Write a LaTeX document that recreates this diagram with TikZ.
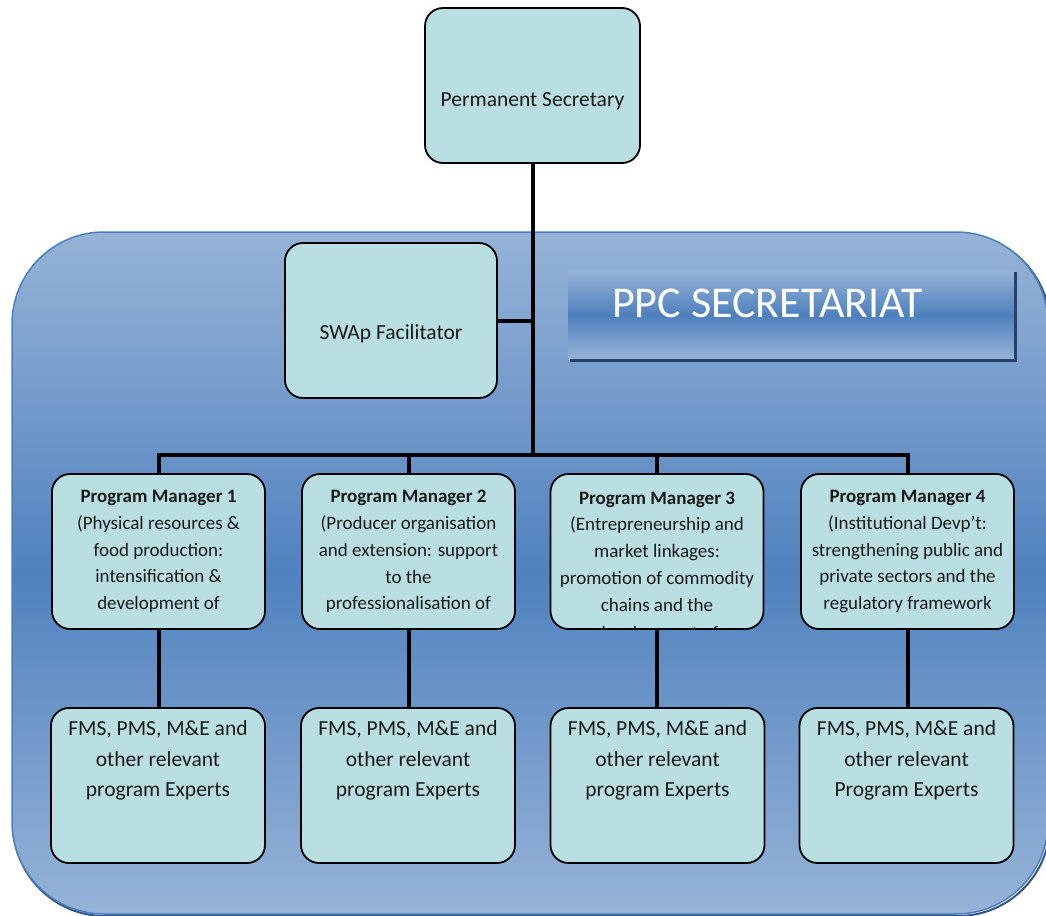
\documentclass[tikz,border=0pt]{standalone}
\usepackage{fontspec}
\setmainfont{Carlito}
\usetikzlibrary{calc}
\definecolor{boxfill}{RGB}{185,223,227}
\definecolor{bgl}{RGB}{150,179,215}
\definecolor{bgd}{RGB}{80,130,190}
\definecolor{bgborder}{RGB}{74,126,190}
\definecolor{bgshadow}{RGB}{50,85,135}
\definecolor{bnl}{RGB}{150,179,215}
\definecolor{bnd}{RGB}{78,128,189}
\definecolor{bshadow}{RGB}{38,64,104}
\definecolor{txt}{RGB}{25,25,25}
\begin{document}
\begin{tikzpicture}[x=1pt,y=-1pt,
  box/.style={draw=black, line width=1.8pt, fill=boxfill, rounded corners=18pt,
    minimum width=213pt, minimum height=155pt, inner sep=0pt},
  conn/.style={draw=black, line width=4pt},
  lbl/.style={text=txt, align=center, font=\fontsize{21.5}{24}\selectfont},
  pmtext/.style={text=txt, align=center, font=\fontsize{19}{26.8}\selectfont},
  extext/.style={text=txt, align=center, font=\fontsize{21.5}{30.5}\selectfont}]
\useasboundingbox (0,0) rectangle (1046,915);
% background region
\begin{scope}
\clip (0,0) rectangle (1046,915);
\draw[bgshadow, line width=2pt, rounded corners=92pt] (13,234) rectangle (1050,916);
\shade[top color=bgl, bottom color=bgl, middle color=bgd, draw=bgborder, line width=1.5pt,
  rounded corners=92pt] (12,232) rectangle (1048,914);
\end{scope}
% banner
\node[shade, top color=bnl, bottom color=bnl, middle color=bnd,
  minimum width=446pt, minimum height=88pt, inner sep=0pt] (banner) at (791,315) {};
\fill[bshadow] (banner.north east) ++(0,1) rectangle ([shift={(3,3)}]banner.south east);
\fill[bshadow] ([xshift=2pt]banner.south west) rectangle ([shift={(3,3)}]banner.south east);
\node[text=white, font=\fontsize{44}{44}\selectfont, inner sep=0pt] (ppc) at (767.5,303) {PPC SECRETARIAT};
% boxes
\node[box, minimum width=215pt] (ps) at (532.5,85.5) {};
\node[lbl] (pst) at (532.5,101) {Permanent Secretary};
\node[box, minimum width=212pt] (swap) at (391,320.5) {};
\node[lbl] (swapt) at (391,334) {SWAp Facilitator};
\node[box, pmtext] (pm1) at (158.5,551.5) {\textbf{Program Manager 1}\\(Physical resources \&\\food production:\\intensification \&\\development of};
\node[box, pmtext] (pm2) at (408.5,551.5) {\textbf{Program Manager 2}\\(Producer organisation\\and extension: support\\to the\\professionalisation of};
\node[box, pmtext] (pm3) at (657,551.5) {\textbf{Program Manager 3}\\(Entrepreneurship and\\market linkages:\\promotion of commodity\\chains and the};
\node[box, pmtext] (pm4) at (907.5,551.5) {\textbf{Program Manager 4}\\(Institutional Devp’t:\\strengthening public and\\private sectors and the\\regulatory framework};
\begin{scope}
\clip ([shift={(2,2)}]pm3.north west) rectangle ([shift={(-2,-1.2)}]pm3.south east);
\node[pmtext, anchor=base] (pm3x) at (657,639) {development of};
\end{scope}
\foreach \i/\x in {1/158,2/408,3/657.5,4/906.5}{
  \node[box, minimum width=214pt] (ex\i) at (\x,785.5) {};
}
\node[extext] (ex1t) at (158,760.5) {FMS, PMS, M\&E and\\other relevant\\program Experts};
\node[extext] (ex2t) at (408,760.5) {FMS, PMS, M\&E and\\other relevant\\program Experts};
\node[extext] (ex3t) at (657.5,760.5) {FMS, PMS, M\&E and\\other relevant\\program Experts};
\node[extext] (ex4t) at (906.5,760.5) {FMS, PMS, M\&E and\\other relevant\\Program Experts};
% connectors
\coordinate (bus) at (533,455);
\draw[conn] (ps.south -| bus) -- (bus);
\draw[conn] (swap.east) -- (swap.east -| bus);
\draw[conn, line cap=rect] (pm1.north |- bus) -- (pm4.north |- bus);
\foreach \i in {1,2,3,4}{
  \draw[conn] (pm\i.north |- bus) -- (pm\i.north);
  \draw[conn] (pm\i.south) -- (pm\i.south |- ex\i.north);
}
\end{tikzpicture}
\end{document}
